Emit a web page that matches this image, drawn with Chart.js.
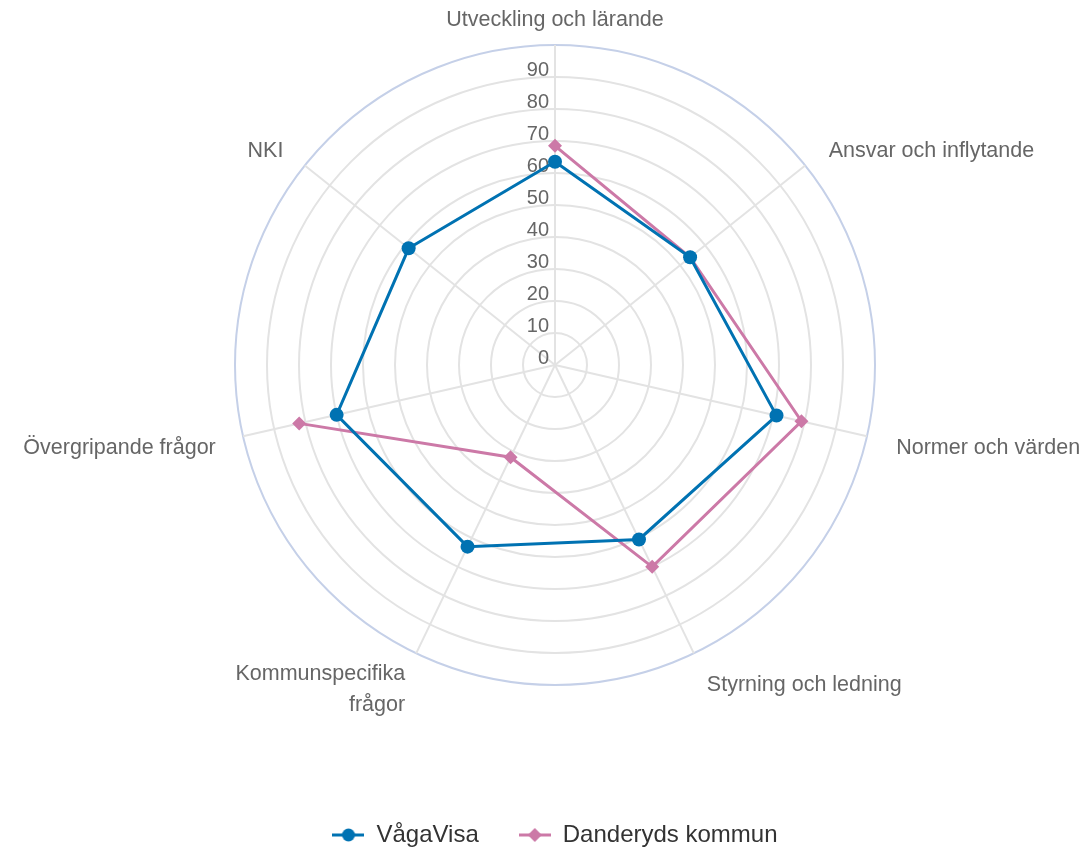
<!DOCTYPE html>
<html>
<head>
<meta charset="utf-8">
<script src="https://cdn.jsdelivr.net/npm/chart.js@4/dist/chart.umd.min.js"></script>
<style>
html,body{margin:0;padding:0;background:#fff;}
#wrap{width:1086px;height:852px;}
</style>
</head>
<body>
<div id="wrap"><canvas id="c" width="1086" height="852"></canvas></div>
<script>
const categories = [
  'Utveckling och lärande',
  'Ansvar och inflytande',
  'Normer och värden',
  'Styrning och ledning',
  ['Kommunspecifika', 'frågor'],
  'Övergripande frågor',
  'NKI'
];
const seriesNames = ['VågaVisa', 'Danderyds kommun'];
const vagaVisa = [63.5, 54, 71, 60.5, 63, 70, 58.5];
const danderyd = [68.5, 54, 79, 70, 32, 82, null];
const tickValues = [0, 10, 20, 30, 40, 50, 60, 70, 80, 90];

const BLUE = '#0072B2';
const PINK = '#CC79A7';
const FONT = "'Liberation Sans', Arial, sans-serif";
const LABEL_SIZE = 21.5;

function legendMarker(color, style) {
  const c = document.createElement('canvas');
  c.width = 32; c.height = 16;
  const x = c.getContext('2d');
  x.strokeStyle = color; x.fillStyle = color; x.lineWidth = 3;
  x.beginPath(); x.moveTo(0, 8); x.lineTo(32, 8); x.stroke();
  x.beginPath();
  if (style === 'circle') { x.arc(16, 8, 6.5, 0, Math.PI * 2); }
  else { x.moveTo(16, 1); x.lineTo(23, 8); x.lineTo(16, 15); x.lineTo(9, 8); x.closePath(); }
  x.fill();
  return c;
}
const markers = [legendMarker(BLUE, 'circle'), legendMarker(PINK, 'diamond')];

const tickLabelPlugin = {
  id: 'tickLabels',
  beforeDatasetsDraw(chart) {
    const s = chart.scales.r;
    const ctx = chart.ctx;
    ctx.save();
    ctx.font = '20px ' + FONT;
    ctx.fillStyle = '#666666';
    ctx.textAlign = 'right';
    ctx.textBaseline = 'alphabetic';
    tickValues.forEach(v => {
      const d = s.getDistanceFromCenterForValue(v);
      ctx.fillText(String(v), s.xCenter - 6, s.yCenter - d - 1);
    });
    ctx.restore();
  }
};

const pointLabelPlugin = {
  id: 'outerLabels',
  afterDatasetsDraw(chart) {
    const s = chart.scales.r;
    const ctx = chart.ctx;
    ctx.save();
    ctx.font = LABEL_SIZE + 'px ' + FONT;
    ctx.fillStyle = '#666666';
    ctx.textBaseline = 'alphabetic';
    chart.data.labels.forEach((lab, i) => {
      const p = s.getPointPosition(i, s.drawingArea + 30);
      const lines = Array.isArray(lab) ? lab : [lab];
      ctx.textAlign = p.x > s.xCenter + 1 ? 'left' : (p.x < s.xCenter - 1 ? 'right' : 'center');
      const dx = ctx.textAlign === 'right' ? 2 : 0;
      let y = p.y + 0.358 * LABEL_SIZE + 3 - (lines.length - 1) * 11;
      lines.forEach(t => { ctx.fillText(t, p.x + dx, y); y += 30.5; });
    });
    ctx.restore();
  }
};

new Chart(document.getElementById('c'), {
  type: 'radar',
  data: {
    labels: categories,
    datasets: [
      {
        label: seriesNames[0], data: vagaVisa,
        borderColor: BLUE, backgroundColor: BLUE, borderWidth: 3,
        pointStyle: 'circle', pointRadius: 7, pointHoverRadius: 7,
        pointBackgroundColor: BLUE, pointBorderWidth: 0, fill: false, spanGaps: false
      },
      {
        label: seriesNames[1], data: danderyd,
        borderColor: PINK, backgroundColor: PINK, borderWidth: 3,
        pointStyle: 'rectRot', pointRadius: 7, pointHoverRadius: 7,
        pointBackgroundColor: PINK, pointBorderWidth: 0, fill: false, spanGaps: false
      }
    ]
  },
  options: {
    responsive: false,
    animation: false,
    events: [],
    layout: { padding: { top: 45, left: 24, right: 0, bottom: -5 } },
    plugins: {
      tooltip: { enabled: false },
      legend: {
        position: 'bottom',
        title: { display: true, text: '', font: { size: 10 }, padding: { top: 0, bottom: 86 } },
        labels: {
          usePointStyle: true,
          pointStyleWidth: 32,
          boxHeight: 16,
          padding: 40,
          color: '#333333',
          font: { family: FONT, size: 24 },
          generateLabels(chart) {
            const items = Chart.defaults.plugins.legend.labels.generateLabels(chart);
            items.forEach((it, i) => { it.pointStyle = markers[i]; });
            return items;
          }
        }
      }
    },
    scales: {
      r: {
        min: 0, max: 100,
        ticks: { stepSize: 10, display: false },
        grid: {
          circular: true,
          color: ctx => (ctx.tick && ctx.tick.value === 100) ? '#c5d0e8' : '#e3e3e3',
          lineWidth: 2
        },
        angleLines: { color: '#e3e3e3', lineWidth: 2 },
        pointLabels: { display: false }
      }
    }
  },
  plugins: [tickLabelPlugin, pointLabelPlugin]
});
</script>
</body>
</html>
